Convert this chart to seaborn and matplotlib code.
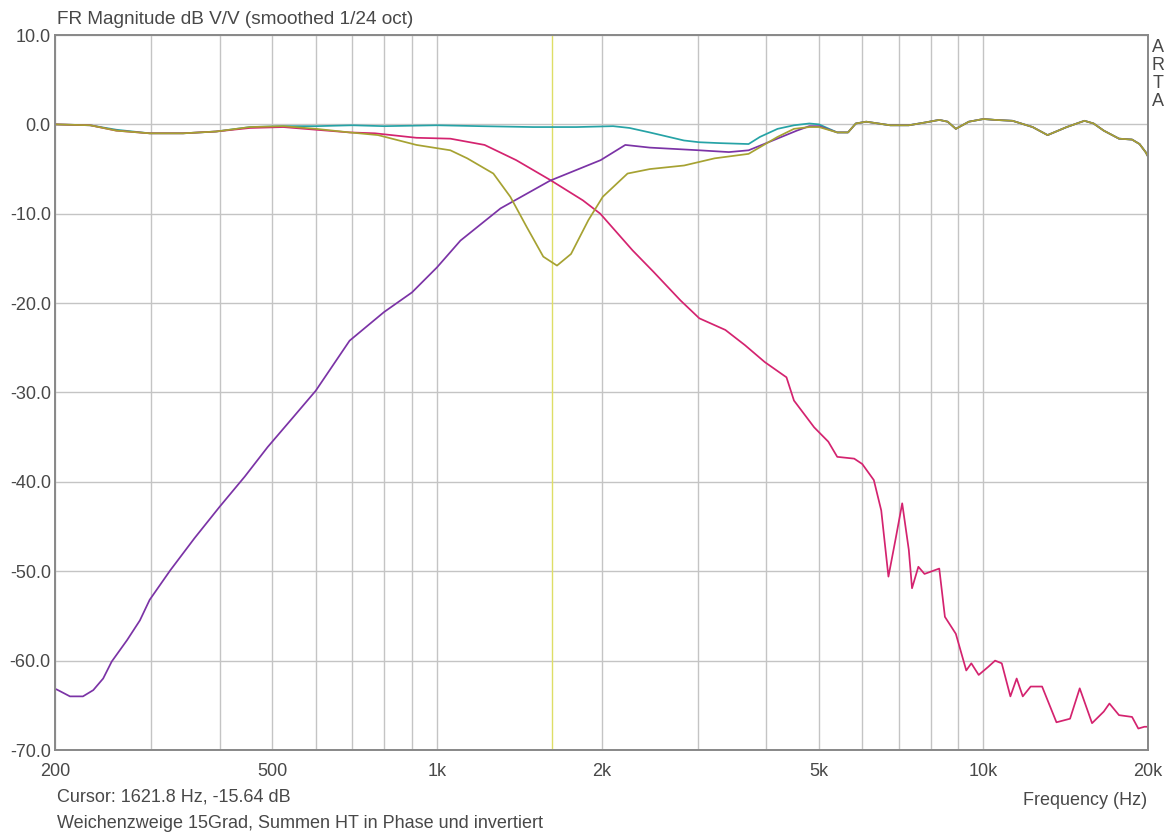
import numpy as np
import pandas as pd
import matplotlib
matplotlib.use("Agg")
import matplotlib.pyplot as plt
import matplotlib.ticker as mticker
import seaborn as sns

# ---------------- data ----------------
# Sum, tweeter in phase (cyan)
sum_phase_freq = [200, 232, 259, 298, 343, 394, 455, 523, 601, 700, 800, 1000, 1200,
                  1500, 1800, 2100, 2250, 2450, 2830, 3020, 3300, 3717, 3900, 4200,
                  4500, 4800, 5000, 5400, 5650, 5840, 6100, 6750, 7300, 7800, 8300,
                  8600, 8900, 9400, 10000, 10500, 11300, 12300, 13100, 14200, 15300,
                  15900, 16600, 17700, 18700, 19300, 19800, 20000]
sum_phase_db = [0.0, -0.1, -0.6, -1.0, -1.0, -0.8, -0.3, -0.2, -0.2, -0.1, -0.2, -0.1, -0.2,
                -0.3, -0.3, -0.2, -0.4, -0.9, -1.8, -2.0, -2.1, -2.2, -1.4, -0.5,
                -0.1, 0.1, 0.0, -0.9, -0.9, 0.1, 0.3, -0.1, -0.1, 0.2, 0.5,
                0.3, -0.5, 0.3, 0.6, 0.5, 0.4, -0.3, -1.2, -0.3, 0.4,
                0.1, -0.7, -1.6, -1.7, -2.2, -3.1, -3.6]

# Woofer low-pass branch (magenta)
woofer_freq = [200, 232, 259, 298, 343, 394, 455, 523, 601, 692, 770, 917, 1058, 1222,
               1396, 1609, 1849, 1990, 2280, 2490, 2790, 3020, 3370, 3660, 3980, 4360,
               4500, 4900, 5200, 5400, 5800, 6000, 6300, 6500, 6700, 6900, 7100, 7300,
               7400, 7600, 7800, 8300, 8500, 8900, 9300, 9500, 9800, 10200, 10500,
               10800, 11200, 11500, 11800, 12200, 12800, 13600, 14400, 15000, 15800,
               16600, 17000, 17700, 18700, 19200, 19700, 20000]
woofer_db = [0.0, -0.1, -0.7, -1.0, -1.0, -0.8, -0.4, -0.3, -0.6, -0.9, -1.0, -1.5, -1.6, -2.3,
             -4.0, -6.2, -8.5, -10.0, -14.1, -16.5, -19.7, -21.7, -23.0, -24.7, -26.6, -28.3,
             -30.9, -33.9, -35.5, -37.2, -37.4, -38.0, -39.8, -43.2, -50.6, -46.5, -42.4, -47.6,
             -51.9, -49.5, -50.3, -49.7, -55.1, -57.0, -61.1, -60.3, -61.6, -60.7, -60.0,
             -60.3, -64.0, -62.0, -64.0, -62.9, -62.9, -66.9, -66.5, -63.1, -67.0,
             -65.7, -64.8, -66.1, -66.3, -67.6, -67.4, -67.4]

# Tweeter high-pass branch (purple)
tweeter_freq = [201, 204, 213, 225, 235, 245, 254, 271, 286, 298, 325, 360, 400, 445, 490,
                545, 600, 692, 800, 900, 1000, 1104, 1307, 1610, 1993, 2211, 2452, 3019,
                3421, 3717, 4117, 4555, 4800, 5000, 5400, 5650, 5840, 6100, 6750, 7300,
                7800, 8300, 8600, 8900, 9400, 10000, 10500, 11300, 12300, 13100, 14200,
                15300, 15900, 16600, 17700, 18700, 19300, 19800, 20000]
tweeter_db = [-63.2, -63.4, -64.0, -64.0, -63.3, -62.0, -60.1, -57.7, -55.5, -53.2, -49.9,
              -46.3, -42.8, -39.4, -36.1, -32.8, -29.8, -24.2, -21.0, -18.8, -16.0, -13.0,
              -9.4, -6.3, -4.0, -2.3, -2.6, -2.9, -3.1, -2.9, -1.8, -0.7, -0.2, -0.2,
              -0.9, -0.9, 0.1, 0.3, -0.1, -0.1, 0.2, 0.5, 0.3, -0.5, 0.3, 0.6, 0.5,
              0.4, -0.3, -1.2, -0.3, 0.4, 0.1, -0.7, -1.6, -1.7, -2.2, -3.1, -3.6]

# Sum, tweeter inverted (olive)
sum_inv_freq = [200, 232, 259, 298, 343, 394, 455, 523, 601, 692, 780, 917, 1058, 1136,
                1268, 1362, 1460, 1565, 1658, 1759, 1893, 2011, 2232, 2452, 2833, 3221,
                3717, 4200, 4500, 4800, 5000, 5400, 5650, 5840, 6100, 6750, 7300, 7800,
                8300, 8600, 8900, 9400, 10000, 10500, 11300, 12300, 13100, 14200, 15300,
                15900, 16600, 17700, 18700, 19300, 19800, 20000]
sum_inv_db = [0.0, -0.1, -0.7, -1.0, -1.0, -0.8, -0.3, -0.2, -0.5, -0.9, -1.2, -2.3, -2.9, -3.8,
              -5.5, -8.1, -11.5, -14.8, -15.8, -14.5, -10.7, -8.1, -5.5, -5.0, -4.6, -3.8,
              -3.3, -1.4, -0.5, -0.3, -0.3, -0.9, -0.9, 0.1, 0.3, -0.1, -0.1, 0.2,
              0.5, 0.3, -0.5, 0.3, 0.6, 0.5, 0.4, -0.3, -1.2, -0.3, 0.4,
              0.1, -0.7, -1.6, -1.7, -2.2, -3.1, -3.6]

series_names = ["Summe HT in Phase", "Tiefpass TT", "Hochpass HT", "Summe HT invertiert"]
series_colors = ["#26a3a6", "#d4236f", "#7b33a6", "#a6a232"]

x_ticks = [200, 500, 1000, 2000, 5000, 10000, 20000]
x_tick_labels = ["200", "500", "1k", "2k", "5k", "10k", "20k"]
y_ticks = [10, 0, -10, -20, -30, -40, -50, -60, -70]
y_tick_labels = ["10.0", "0.0", "-10.0", "-20.0", "-30.0", "-40.0", "-50.0", "-60.0", "-70.0"]
cursor_freq = 1621.8

# ---------------- build long-form table ----------------
frames = []
for name, f, d in zip(series_names,
                      [sum_phase_freq, woofer_freq, tweeter_freq, sum_inv_freq],
                      [sum_phase_db, woofer_db, tweeter_db, sum_inv_db]):
    frames.append(pd.DataFrame({"freq": f, "db": d, "series": name}))
df = pd.concat(frames, ignore_index=True)

# ---------------- style ----------------
sns.set_style("white")
plt.rcParams["font.family"] = ["Liberation Sans", "DejaVu Sans"]
TXT = "#484848"
FS = 13

W, H = 1174, 838
fig = plt.figure(figsize=(W / 100, H / 100), dpi=100)
L, R, T, B = 55, 1148, 35, 750
ax = fig.add_axes([L / W, 1 - B / H, (R - L) / W, (B - T) / H])

sns.lineplot(data=df, x="freq", y="db", hue="series", hue_order=series_names,
             palette=series_colors, sort=False, estimator=None, legend=False,
             linewidth=1.25, ax=ax)

ax.axvline(cursor_freq, color="#dede66", linewidth=1.0, zorder=1)

ax.set_xscale("log")
ax.set_xlim(200, 20000)
ax.set_ylim(-70, 10)

ax.xaxis.set_major_locator(mticker.FixedLocator(x_ticks))
ax.xaxis.set_major_formatter(mticker.FixedFormatter(x_tick_labels))
minor = [f for dec in (100, 1000, 10000) for f in [dec * k for k in range(2, 10)]
         if 200 < f < 20000 and f not in x_ticks]
ax.xaxis.set_minor_locator(mticker.FixedLocator(minor))
ax.xaxis.set_minor_formatter(mticker.NullFormatter())
ax.set_yticks(y_ticks)
ax.set_yticklabels(y_tick_labels)

ax.grid(True, which="both", axis="x", color="#c4c4c4", linewidth=1.0, zorder=0)
ax.grid(True, which="major", axis="y", color="#c4c4c4", linewidth=1.0, zorder=0)
ax.set_axisbelow(True)

ax.tick_params(axis="both", which="both", length=0, labelsize=FS, labelcolor=TXT)
ax.tick_params(axis="x", pad=9)
ax.tick_params(axis="y", pad=3)
for s in ax.spines.values():
    s.set_color("#888888")
    s.set_linewidth(1.4)
ax.set_xlabel("")
ax.set_ylabel("")

# ---------------- texts ----------------
def px(x, y):
    return x / W, 1 - y / H

fig.text(*px(57, 19), "FR Magnitude dB V/V (smoothed 1/24 oct)", fontsize=13.7,
         color=TXT, ha="left", va="center")
fig.text(*px(57, 797), "Cursor: 1621.8 Hz, -15.64 dB", fontsize=FS,
         color=TXT, ha="left", va="center")
fig.text(*px(57, 823), "Weichenzweige 15Grad, Summen HT in Phase und invertiert",
         fontsize=FS, color=TXT, ha="left", va="center")
fig.text(*px(1147, 800), "Frequency (Hz)", fontsize=FS, color=TXT,
         ha="right", va="center")
for i, ch in enumerate("ARTA"):
    fig.text(*px(1158, 47 + i * 18), ch, fontsize=FS, color=TXT,
             ha="center", va="center")

fig.savefig("out.png", dpi=100, facecolor="white")
